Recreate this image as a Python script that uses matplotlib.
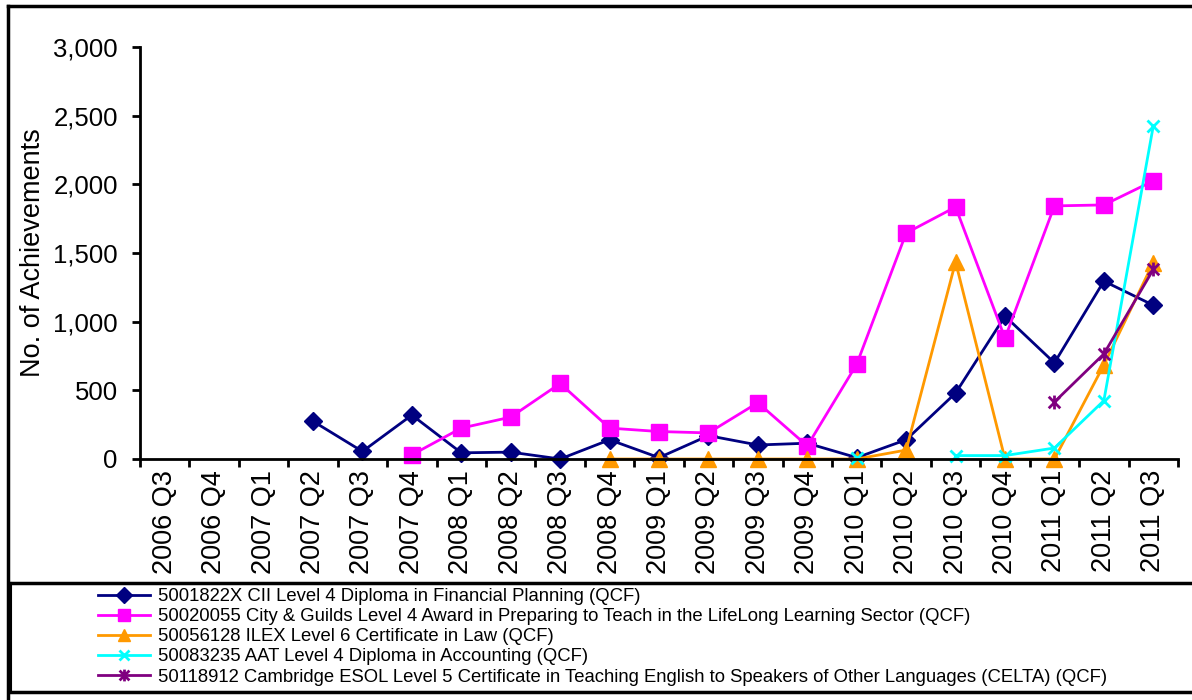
import matplotlib
matplotlib.use("Agg")
import matplotlib.pyplot as plt
from matplotlib.lines import Line2D
from matplotlib.path import Path
import numpy as np

plt.rcParams['font.family'] = ['Liberation Sans', 'DejaVu Sans']

quarters = ['2006 Q3', '2006 Q4', '2007 Q1', '2007 Q2', '2007 Q3', '2007 Q4',
            '2008 Q1', '2008 Q2', '2008 Q3', '2008 Q4', '2009 Q1', '2009 Q2',
            '2009 Q3', '2009 Q4', '2010 Q1', '2010 Q2', '2010 Q3', '2010 Q4',
            '2011 Q1', '2011 Q2', '2011 Q3']
nan = np.nan

cii = [nan, nan, nan, 275, 55, 320, 45, 50, 0, 140, 10, 170,
       102, 115, 10, 140, 480, 1040, 700, 1295, 1120]
city_guilds = [nan, nan, nan, nan, nan, 30, 225, 305, 550, 225, 200, 190,
               410, 95, 690, 1645, 1835, 880, 1843, 1850, 2025]
ilex = [nan, nan, nan, nan, nan, nan, nan, nan, nan, 0, 0, 0,
        0, 0, 0, 65, 1435, 0, 0, 685, 1430]
aat = [nan, nan, nan, nan, nan, nan, nan, nan, nan, nan, nan, nan,
       nan, nan, 5, nan, 25, 25, 80, 425, 2425]
celta = [nan, nan, nan, nan, nan, nan, nan, nan, nan, nan, nan, nan,
         nan, nan, nan, nan, nan, nan, 415, 765, 1380]

names = ['5001822X CII Level 4 Diploma in Financial Planning (QCF)',
         '50020055 City & Guilds Level 4 Award in Preparing to Teach in the LifeLong Learning Sector (QCF)',
         '50056128 ILEX Level 6 Certificate in Law (QCF)',
         '50083235 AAT Level 4 Diploma in Accounting (QCF)',
         '50118912 Cambridge ESOL Level 5 Certificate in Teaching English to Speakers of Other Languages (CELTA) (QCF)']

# excel style star: x with a vertical bar
star = Path([(-1, -1), (1, 1), (-1, 1), (1, -1), (0, -1.2), (0, 1.2)],
            [Path.MOVETO, Path.LINETO, Path.MOVETO, Path.LINETO, Path.MOVETO, Path.LINETO])

styles = [('#000080', 'D', 9, 1),
          ('#FF00FF', 's', 11, 1),
          ('#FF9900', '^', 11, 1),
          ('#00FFFF', 'x', 9, 2),
          ('#800080', star, 10, 2)]

fig = plt.figure(figsize=(11.92, 7.0), dpi=100)
ax = fig.add_axes([140/1192, 1-459/700, (1178-140)/1192, (459-47)/700])

x = np.arange(len(quarters))
series = [cii, city_guilds, ilex, aat, celta]
for data, name, (col, mk, ms, mew) in zip(series, names, styles):
    ax.plot(x, data, color=col, lw=2, marker=mk, markersize=ms,
            markerfacecolor=col, markeredgecolor=col, markeredgewidth=mew,
            label=name, clip_on=False)

ax.set_xlim(-0.5, len(quarters) - 0.5)
ax.set_ylim(0, 3000)
ax.set_yticks(np.arange(0, 3001, 500))
ax.set_yticklabels(['{:,}'.format(v) for v in range(0, 3001, 500)], fontsize=18.5)
ax.set_xticks(x)
ax.set_xticklabels(quarters, rotation=90, fontsize=19.5)
ax.set_xticks(np.arange(-0.5, len(quarters)), minor=True)
ax.tick_params(axis='x', which='major', length=0, pad=8)
ax.tick_params(axis='x', which='minor', length=6, width=2, direction='out')
ax.tick_params(axis='y', length=6, width=2, direction='out', pad=10)
ax.spines['top'].set_visible(False)
ax.spines['right'].set_visible(False)
ax.spines['left'].set_linewidth(2)
ax.spines['bottom'].set_linewidth(2)
ax.set_ylabel('No. of Achievements', fontsize=19.5, labelpad=5)

# outer chart border and legend box
W, H = 1192.0, 700.0
def fline(x0, y0, x1, y1, lw=2.5):
    fig.add_artist(Line2D([x0/W, x1/W], [1-y0/H, 1-y1/H], color='black', lw=lw,
                          transform=fig.transFigure))
fline(8, 6, 1192, 6)
fline(8, 6, 8, 700)
fline(10, 583, 1192, 583)
fline(10, 692, 1192, 692)
fline(11, 583, 11, 692, lw=1.5)

handles, labels = ax.get_legend_handles_labels()
fig.legend(handles, labels, loc='upper left', bbox_to_anchor=(98/W, 1-588/H),
           frameon=False, fontsize=13.3, handlelength=2.8, handletextpad=0.45,
           labelspacing=0.17, borderaxespad=0, borderpad=0, markerscale=0.85)

fig.savefig('out.png', dpi=100)
